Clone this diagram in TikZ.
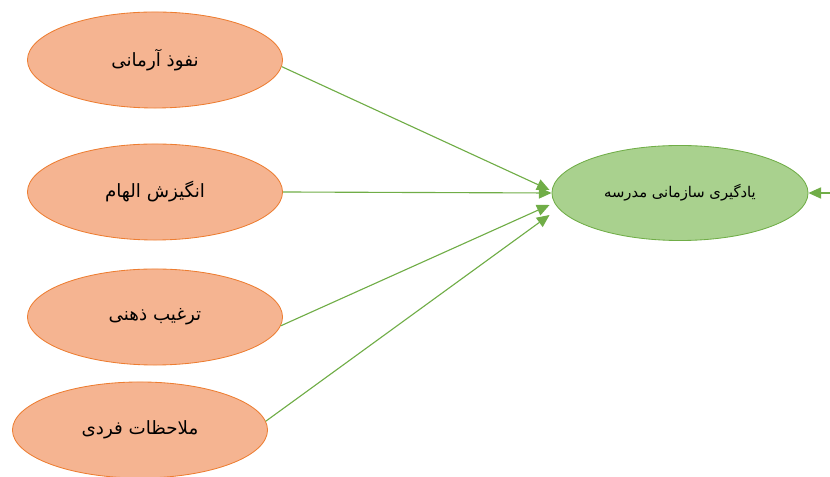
\documentclass[tikz,border=0pt]{standalone}
\usepackage{fontspec}
\usepackage{tikz}
\usetikzlibrary{arrows.meta, positioning, calc, shapes.geometric}
\TeXXeTstate=1
\newfontfamily\arabicfont[Script=Arabic]{DejaVu Sans}
\definecolor{myorange}{RGB}{245,180,145}
\definecolor{myorangeline}{RGB}{237,125,49}
\definecolor{mygreen}{RGB}{169,209,142}
\definecolor{mygreenline}{RGB}{112,173,71}

\begin{document}
\begin{tikzpicture}[x=0.025cm, y=-0.025cm,
    factor/.style={ellipse, draw=myorangeline, fill=myorange, line width=0.6pt,
                   minimum width=6.375cm, minimum height=2.4cm, inner sep=0pt,
                   font=\arabicfont\fontsize{13}{15}\selectfont},
    outcome/.style={ellipse, draw=mygreenline, fill=mygreen, line width=0.6pt,
                    minimum width=6.4cm, minimum height=2.375cm, inner sep=0pt,
                    font=\arabicfont\fontsize{10.5}{12}\selectfont},
    link/.style={draw=mygreenline, line width=0.8pt, -{Triangle[length=9pt, width=8pt]}}]
    \useasboundingbox (0,0) rectangle (830,477);

    % عوامل
    \node[factor] (f1) at (155,60) {\beginR نفوذ آرمانی\endR};
    \node[factor] (f2) at (155,192) {\beginR انگیزش الهام\endR};
    \node[factor] (f3) at (155,317) {\beginR ترغیب ذهنی\endR};
    \node[factor] (f4) at (140,430) {\beginR ملاحظات فردی\endR};

    % متغیر وابسته
    \node[outcome] (goal) at (680,193) {\beginR یادگیری سازمانی مدرسه\endR};

    % نقاط ورود پیکان‌ها
    \coordinate (in1) at ($(goal.west)+(-2,-3)$);
    \coordinate (in2) at (goal.west);
    \coordinate (in3) at ($(goal.west)+(-2,12)$);
    \coordinate (in4) at ($(goal.west)+(-2,22)$);
    \coordinate (src) at (830,193);

    \draw[link] (f1.-3) -- (in1);
    \draw[link] (f2.east) -- (in2);
    \draw[link] (f3.-4) -- (in3);
    \draw[link] (f4.4) -- (in4);
    \draw[link] (src) -- (goal.east);
\end{tikzpicture}
\end{document}
